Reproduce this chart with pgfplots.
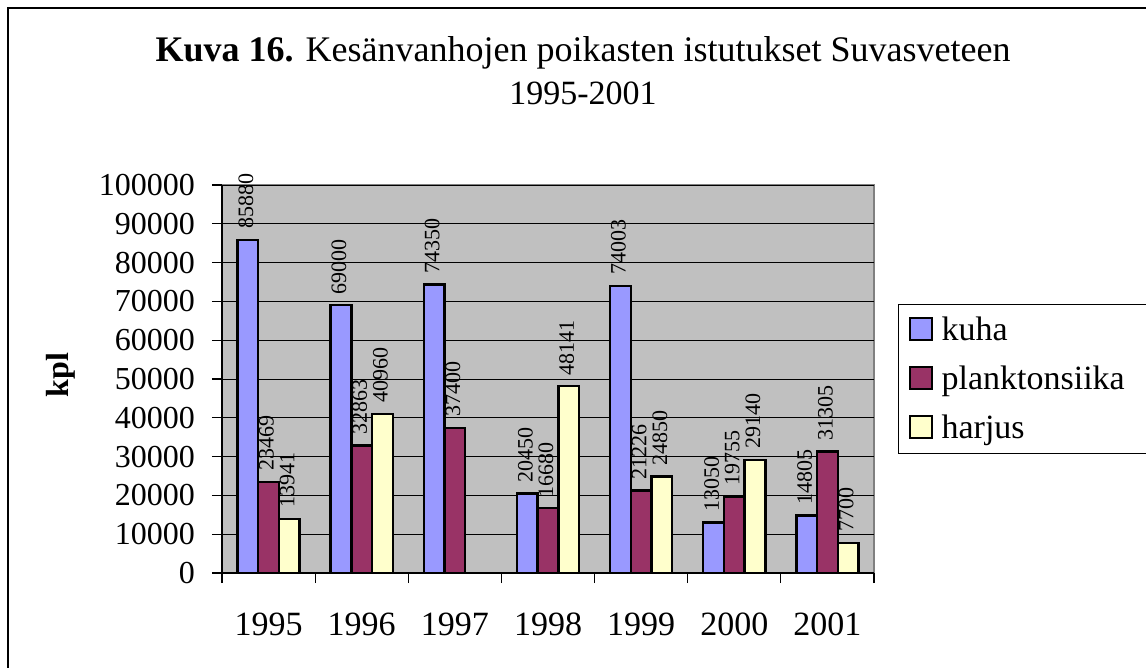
\documentclass[border=0pt]{standalone}
\usepackage{fontspec}
\setmainfont{Liberation Serif}
\usepackage{pgfplots}
\pgfplotsset{compat=1.18}
\definecolor{kuha}{HTML}{9999FF}
\definecolor{plank}{HTML}{993366}
\definecolor{harj}{HTML}{FFFFCC}
\definecolor{plotgray}{HTML}{C0C0C0}
\definecolor{bordergray}{HTML}{808080}
\newcommand{\fs}[1]{\fontsize{#1}{#1}\selectfont}
\pgfplotsset{sqlegend/.style={legend image code/.code={\draw[##1, line width=1pt] (0pt,-4.75pt) rectangle (11pt,6.25pt);}}}
\begin{document}
\begin{tikzpicture}
\useasboundingbox (0,0) rectangle (573pt,-334pt);
\fill[white] (0,0) rectangle (573pt,-334pt);
\draw[line width=0.8pt] (4pt,-340pt) -- (4pt,-4pt) -- (580pt,-4pt);
\node[anchor=base, font=\fs{18pt}, inner sep=0pt] at (291.5pt,-31pt) {\textbf{Kuva 16.} Kesänvanhojen poikasten istutukset Suvasveteen};
\node[anchor=base, font=\fs{17pt}, inner sep=0pt] at (291.5pt,-52.5pt) {1995-2001};
\begin{axis}[
 at={(111pt,-286.5pt)}, anchor=south west,
 scale only axis, width=326pt, height=194pt,
 xmin=-0.5, xmax=6.5, ymin=0, ymax=100000,
 ybar=0pt, bar width=10.35pt,
 axis x line*=bottom, axis y line*=left,
 axis line style={-, black, line width=0.6pt},
 axis background/.style={fill=plotgray, draw=bordergray, line width=1.2pt},
 ymajorgrids, grid style={black, line width=0.5pt},
 ytick={0,10000,...,100000},
 scaled y ticks=false,
 /pgf/number format/fixed, /pgf/number format/precision=0,
 /pgf/number format/1000 sep={},
 /pgf/number format/assume math mode=true,
 yticklabel style={font=\fs{16pt}, xshift=-5pt},
 xtick={0,...,6}, xticklabels={1995,1996,1997,1998,1999,2000,2001},
 xticklabel style={font=\fs{17pt}, anchor=base, yshift=-26pt},
 major x tick style={draw=none},
 minor xtick={-0.5,0.5,...,6.5},
 tick align=outside, major tick length=5pt, minor tick length=5pt,
 tick style={black, line width=0.6pt},
 ylabel={\textbf{kpl}},
 ylabel style={at={(axis description cs:-0.247,0.51)}, anchor=center, font=\fs{16pt}},
 clip=false,
 nodes near coords,
 every node near coord/.append style={xshift=-1pt, rotate=90, anchor=west, font=\fs{11pt}, inner sep=5pt, black},
 legend style={at={(axis description cs:1.0368,0.6933)}, anchor=north west, draw=black, line width=0.6pt, fill=white, font=\fs{17pt}, inner xsep=5pt, inner ysep=5pt, row sep=9pt, column sep=4.5pt, cells={anchor=west}, nodes={inner sep=0pt, text height=13pt, text depth=2.5pt, text width=110pt, align=left}},
]
\addplot[fill=kuha, draw=black, line width=1.2pt, sqlegend] coordinates {(0,85880) (1,69000) (2,74350) (3,20450) (4,74003) (5,13050) (6,14805)};
\addplot[fill=plank, draw=black, line width=1.2pt, sqlegend] coordinates {(0,23469) (1,32863) (2,37400) (3,16680) (4,21226) (5,19755) (6,31305)};
\addplot[fill=harj, draw=black, line width=1.2pt, sqlegend] coordinates {(0,13941) (1,40960) (3,48141) (4,24850) (5,29140) (6,7700)};
\legend{kuha,planktonsiika,harjus}
\end{axis}
\end{tikzpicture}
\end{document}
